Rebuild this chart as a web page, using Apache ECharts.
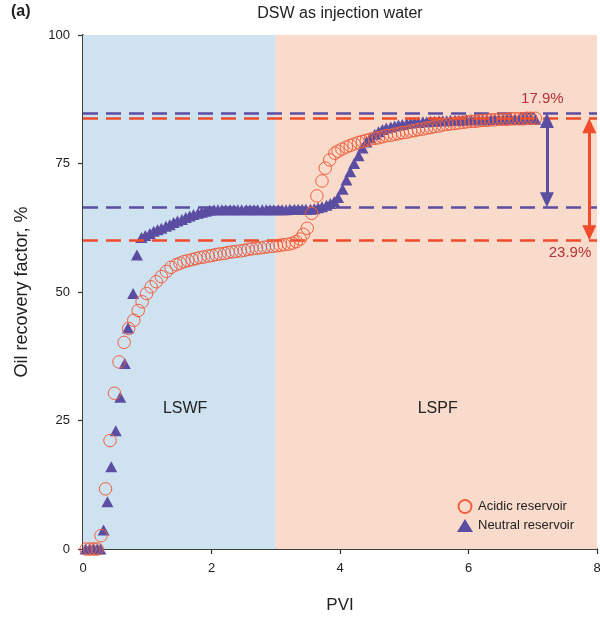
<!DOCTYPE html>
<html>
<head>
<meta charset="utf-8">
<script src="https://cdn.jsdelivr.net/npm/echarts@6/dist/echarts.min.js"></script>
<style>
  html, body { margin: 0; padding: 0; background: #fff; }
  #chart { width: 600px; height: 619px; }
</style>
</head>
<body>
<div id="chart"></div>
<script>
// PVI vs oil recovery factor (%)
var acidic = [
  [0.05, 0], [0.11, 0], [0.17, 0], [0.22, 0], [0.28, 2.6], [0.35, 11.7], [0.42, 21.1],
  [0.49, 30.3], [0.56, 36.4], [0.64, 40.2], [0.71, 42.9], [0.79, 44.5], [0.86, 46.4],
  [0.92, 48.1], [0.99, 49.7], [1.06, 51.0], [1.14, 52.0], [1.22, 53.0], [1.30, 54.0],
  [1.37, 54.8], [1.45, 55.3], [1.51, 55.6], [1.57, 55.9], [1.63, 56.1], [1.70, 56.3],
  [1.76, 56.5], [1.82, 56.7], [1.88, 56.8], [1.95, 57.0], [2.01, 57.1], [2.07, 57.3],
  [2.13, 57.4], [2.20, 57.5], [2.26, 57.7], [2.32, 57.8], [2.38, 57.9], [2.45, 58.0],
  [2.51, 58.1], [2.57, 58.3], [2.63, 58.4], [2.70, 58.5], [2.76, 58.6], [2.82, 58.7],
  [2.88, 58.8], [2.95, 58.9], [3.01, 59.0], [3.07, 59.1], [3.13, 59.2], [3.20, 59.3],
  [3.26, 59.5], [3.32, 59.8], [3.38, 60.3], [3.43, 61.2], [3.49, 62.4], [3.56, 65.3],
  [3.64, 68.7], [3.72, 71.6], [3.77, 74.1], [3.84, 75.7], [3.92, 77.0], [3.97, 77.4],
  [4.03, 77.8], [4.10, 78.2], [4.16, 78.5], [4.22, 78.8], [4.29, 79.1], [4.35, 79.3],
  [4.41, 79.5], [4.47, 79.7], [4.54, 79.9], [4.60, 80.0], [4.66, 80.2], [4.72, 80.4],
  [4.79, 80.5], [4.85, 80.7], [4.91, 80.8], [4.97, 81.0], [5.04, 81.1], [5.10, 81.3],
  [5.16, 81.4], [5.22, 81.6], [5.29, 81.7], [5.35, 81.9], [5.41, 82.0], [5.47, 82.2],
  [5.54, 82.3], [5.60, 82.5], [5.66, 82.6], [5.72, 82.7], [5.79, 82.8], [5.85, 82.9],
  [5.91, 83.0], [5.97, 83.1], [6.04, 83.2], [6.10, 83.2], [6.16, 83.3], [6.22, 83.4],
  [6.29, 83.4], [6.35, 83.5], [6.41, 83.5], [6.47, 83.6], [6.54, 83.6], [6.60, 83.6],
  [6.66, 83.7], [6.72, 83.7], [6.79, 83.7], [6.85, 83.7], [6.91, 83.8], [6.97, 83.8],
  [7.04, 83.8]
];

var neutral = [
  [0.04, 0], [0.10, 0], [0.16, 0], [0.22, 0], [0.27, 0], [0.32, 3.7], [0.38, 9.2],
  [0.44, 16.0], [0.51, 23.0], [0.58, 29.5], [0.65, 36.1], [0.70, 43.0], [0.78, 49.7],
  [0.84, 57.2], [0.91, 60.6], [0.97, 61.0], [1.04, 61.4], [1.10, 61.8], [1.16, 62.1],
  [1.22, 62.4], [1.29, 62.8], [1.35, 63.1], [1.41, 63.5], [1.47, 63.8], [1.54, 64.1],
  [1.60, 64.5], [1.66, 64.8], [1.72, 65.1], [1.79, 65.3], [1.85, 65.5], [1.91, 65.7],
  [1.97, 65.9], [2.04, 66.0], [2.10, 66.0], [2.16, 66.0], [2.22, 66.0], [2.29, 66.0],
  [2.35, 66.0], [2.41, 66.0], [2.47, 66.0], [2.54, 66.0], [2.60, 66.0], [2.66, 66.0],
  [2.72, 66.0], [2.79, 66.0], [2.85, 66.0], [2.91, 66.0], [2.97, 66.0], [3.04, 66.0],
  [3.10, 66.0], [3.16, 66.0], [3.22, 66.1], [3.29, 66.1], [3.35, 66.1], [3.41, 66.1],
  [3.47, 66.1], [3.54, 66.1], [3.60, 66.2], [3.66, 66.4], [3.72, 66.6], [3.79, 66.9],
  [3.85, 67.2], [3.91, 67.6], [3.97, 68.4], [4.04, 70.0], [4.10, 71.8], [4.16, 73.4],
  [4.22, 75.0], [4.29, 76.5], [4.35, 78.0], [4.41, 79.2], [4.47, 80.0], [4.54, 80.7],
  [4.60, 81.2], [4.66, 81.6], [4.72, 81.9], [4.79, 82.1], [4.85, 82.3], [4.91, 82.5],
  [4.97, 82.6], [5.04, 82.8], [5.10, 82.9], [5.16, 83.0], [5.22, 83.0], [5.29, 83.1],
  [5.35, 83.1], [5.41, 83.2], [5.47, 83.2], [5.54, 83.3], [5.60, 83.3], [5.66, 83.3],
  [5.72, 83.4], [5.79, 83.4], [5.85, 83.4], [5.91, 83.4], [5.97, 83.5], [6.04, 83.5],
  [6.10, 83.5], [6.16, 83.5], [6.22, 83.5], [6.29, 83.5], [6.35, 83.6], [6.41, 83.6],
  [6.47, 83.6], [6.54, 83.6], [6.60, 83.6], [6.66, 83.6], [6.72, 83.6], [6.79, 83.6],
  [6.85, 83.6], [6.91, 83.6], [6.97, 83.6], [7.04, 83.6]
];

// plateau levels (dashed) and where the difference arrows stand
var neutralLevels = [84.8, 66.5];
var acidicLevels = [83.8, 60.1];
var neutralArrowX = 7.22;
var acidicArrowX = 7.88;
var xTicks = [0, 2, 4, 6, 8];
var yTicks = [0, 25, 50, 75, 100];

var BLUE = '#5b4ea2';
var ORANGE = '#f04b2a';
var CIRCLE = '#f0603f';
var FONT = 'Liberation Sans, Arial, sans-serif';

var chart = echarts.init(document.getElementById('chart'));

// arrow tips land on the dashed lines; the symbol is centred on the end point
var tipPad = 1.45;

chart.setOption({
  animation: false,
  textStyle: { fontFamily: FONT },
  graphic: [
    { type: 'text', left: 11, top: 4, style: { text: '(a)', font: 'bold 16px ' + FONT, fill: '#222' } },
    {
      type: 'text', x: 340, y: 14,
      style: { text: 'DSW as injection water', font: '16px ' + FONT, fill: '#222', align: 'center', verticalAlign: 'middle' }
    }
  ],
  legend: {
    left: 457,
    top: 499,
    padding: 0,
    orient: 'vertical',
    itemWidth: 16,
    itemHeight: 13,
    itemGap: 5,
    textStyle: { fontSize: 13, color: '#222', fontFamily: FONT },
    data: ['Acidic reservoir', 'Neutral reservoir']
  },
  grid: { left: 83, right: 3, top: 35, bottom: 70, outerBoundsMode: 'none' },
  xAxis: [
    {
      type: 'value', min: 0, max: 8, interval: 2,
      name: 'PVI', nameLocation: 'middle', nameGap: 48,
      nameTextStyle: { fontSize: 17, color: '#222', fontFamily: FONT },
      axisLine: { show: true, lineStyle: { color: '#333', width: 1.5 } },
      axisTick: { show: true, length: 5, lineStyle: { color: '#333', width: 1.2 } },
      axisLabel: { fontSize: 13, color: '#222', margin: 13, formatter: function (v) { return xTicks.indexOf(v) >= 0 ? v : ''; } },
      splitLine: { show: false }
    },
    {
      type: 'value', min: 0, max: 8, position: 'top',
      axisLine: { show: true, lineStyle: { color: '#333', width: 1.5 } },
      axisTick: { show: false }, axisLabel: { show: false }, splitLine: { show: false }
    }
  ],
  yAxis: [
    {
      type: 'value', min: 0, max: 100, interval: 25,
      name: 'Oil recovery factor, %', nameLocation: 'middle', nameGap: 52,
      nameTextStyle: { fontSize: 18, color: '#222', fontFamily: FONT },
      axisLine: { show: true, lineStyle: { color: '#333', width: 1.5 } },
      axisTick: { show: true, length: 5, lineStyle: { color: '#333', width: 1.2 } },
      axisLabel: { fontSize: 13, color: '#222', margin: 13, formatter: function (v) { return yTicks.indexOf(v) >= 0 ? v : ''; } },
      splitLine: { show: false }
    },
    {
      type: 'value', min: 0, max: 100, position: 'right',
      axisLine: { show: true, lineStyle: { color: '#333', width: 1.5 } },
      axisTick: { show: false }, axisLabel: { show: false }, splitLine: { show: false }
    }
  ],
  series: [
    {
      // background zones, dashed plateau lines and text labels
      name: 'annotations',
      type: 'scatter',
      data: [],
      z: 1,
      silent: true,
      markArea: {
        silent: true,
        data: [
          [{ xAxis: 0, itemStyle: { color: '#cfe2f0' } }, { xAxis: 3 }],
          [{ xAxis: 3, itemStyle: { color: '#f9dbcb' } }, { xAxis: 8 }]
        ]
      },
      markLine: {
        silent: true,
        symbol: 'none',
        label: { show: false },
        lineStyle: { type: [15, 8], width: 2.6 },
        data: [
          { yAxis: neutralLevels[0], lineStyle: { color: BLUE } },
          { yAxis: neutralLevels[1], lineStyle: { color: BLUE } },
          { yAxis: acidicLevels[0], lineStyle: { color: ORANGE } },
          { yAxis: acidicLevels[1], lineStyle: { color: ORANGE } }
        ]
      },
      markPoint: {
        silent: true,
        symbol: 'circle',
        symbolSize: 0,
        data: [
          { coord: [1.59, 27.4], label: { show: true, formatter: 'LSWF', fontSize: 16, color: '#222', fontFamily: FONT } },
          { coord: [5.52, 27.4], label: { show: true, formatter: 'LSPF', fontSize: 16, color: '#222', fontFamily: FONT } },
          { coord: [7.15, 87.5], label: { show: true, formatter: '17.9%', fontSize: 15, color: '#b4323a', fontFamily: FONT } },
          { coord: [7.58, 57.6], label: { show: true, formatter: '23.9%', fontSize: 15, color: '#b4323a', fontFamily: FONT } }
        ]
      }
    },
    {
      name: 'arrows',
      type: 'scatter',
      data: [],
      z: 3,
      silent: true,
      markLine: {
        silent: true,
        symbol: ['triangle', 'triangle'],
        symbolSize: [14, 15],
        label: { show: false },
        data: [
          [
            { coord: [neutralArrowX, neutralLevels[0] - tipPad], lineStyle: { color: BLUE, width: 3, type: 'solid' } },
            { coord: [neutralArrowX, neutralLevels[1] + tipPad] }
          ],
          [
            { coord: [acidicArrowX, acidicLevels[0] - tipPad], lineStyle: { color: ORANGE, width: 3, type: 'solid' } },
            { coord: [acidicArrowX, acidicLevels[1] + tipPad] }
          ]
        ]
      }
    },
    {
      name: 'Neutral reservoir',
      type: 'scatter',
      data: neutral,
      symbol: 'triangle',
      symbolSize: [12, 11],
      z: 4,
      itemStyle: { color: BLUE, opacity: 1 }
    },
    {
      name: 'Acidic reservoir',
      type: 'scatter',
      data: acidic,
      symbol: 'circle',
      symbolSize: 12.5,
      z: 5,
      itemStyle: { color: 'rgba(0,0,0,0)', borderColor: CIRCLE, borderWidth: 1, opacity: 1 }
    }
  ]
});
</script>
</body>
</html>
